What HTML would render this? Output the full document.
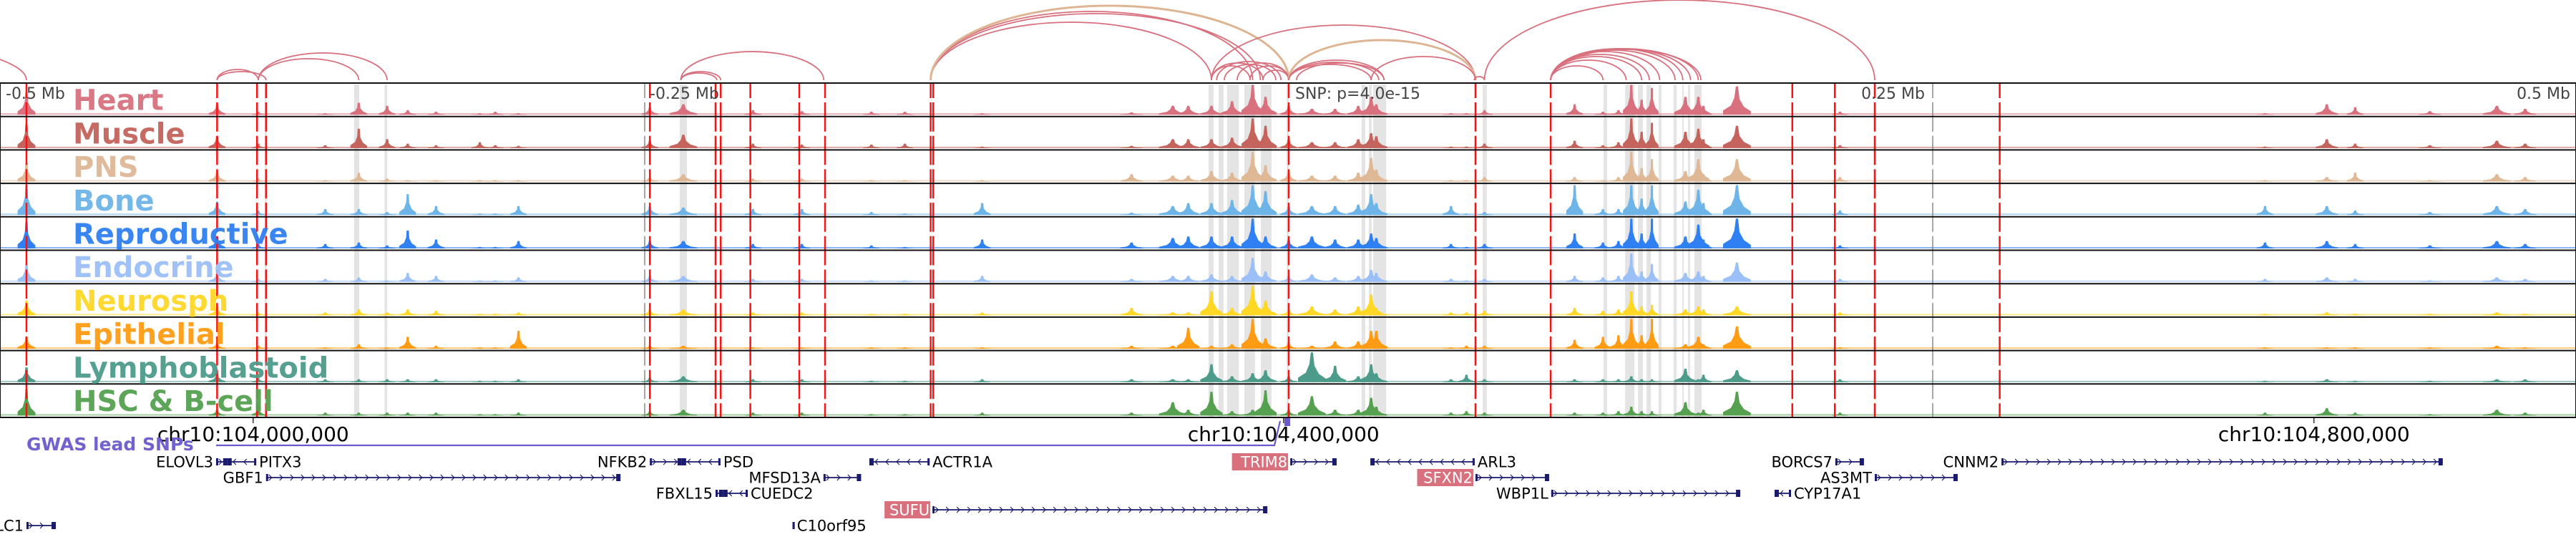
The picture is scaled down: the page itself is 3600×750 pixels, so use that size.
<!DOCTYPE html>
<html><head><meta charset="utf-8">
<style>
html,body{margin:0;padding:0;background:#fff;}
svg{display:block;font-family:"DejaVu Sans","Liberation Sans",sans-serif;}
</style></head>
<body>
<svg id="chart" xmlns="http://www.w3.org/2000/svg" width="3600" height="750" viewBox="0 0 3600 750">
<g id="bands"></g>
<g id="signals"></g>
<g id="vlines"></g>
<g id="frames"></g>
<g id="labels"></g>
<g id="arcs"></g>
<g id="axis"></g>
<g id="genes"></g>
</svg>
<script>
// ---- data (kb relative to lead SNP, chr10:104,402,000) ----
const trackNames = ["Heart","Muscle","PNS","Bone","Reproductive","Endocrine","Neurosph","Epithelial","Lymphoblastoid","HSC & B-cell"];
const trackColors = ["#d8707e","#c4645c","#dfb896","#6db4e8","#2f80f2","#9bbff7","#ffd826","#ff9c14","#4c9b8b","#55a150"];
const peakKb = [-490,-416,-400,-374,-361,-350,-342,-331,-314,-308,-299,-248,-235,-208,-189,-162,-149,-119,-61,-45,-39,-30,-22,-14,-9,0,9,18,27,32,34,63,69,76,111,122,128,133,137,141,154,159,161,174,214,379,403,414,443,469,480];
const peakW = [1.6,1.5,1.2,1.5,1.5,1.5,1.5,1.5,1.5,1.5,1.5,1.5,2.5,1.5,1.5,1.5,1.5,1.5,2,2.5,2,2,2,2,2,1.5,2.5,2,2,2,2,1.5,1.5,1.5,1.5,1.5,1.5,1.5,1.5,1.2,2,2,1.5,2.5,1.5,1.5,2,1.5,2,2.5,2];
const hHeart = [.75,.35,.1,.05,.4,.3,.15,.1,.05,.1,.05,.25,.35,.15,.12,.1,.1,.05,.08,.3,.3,.3,.45,1.0,.6,.3,.2,.2,.3,.6,.35,.05,.05,.15,.35,.1,.15,1.0,.5,.9,.6,.6,.3,.95,.1,.05,.35,.25,.12,.3,.2];
const hMuscle = [.8,.4,.15,.1,.65,.3,.15,.1,.2,.1,.08,.25,.45,.15,.12,.12,.15,.05,.08,.3,.3,.3,.35,1.0,.75,.3,.2,.2,.3,.5,.4,.05,.05,.15,.25,.1,.2,1.0,.55,.85,.55,.65,.3,.75,.1,.05,.3,.15,.1,.25,.15];
const hPNS = [.6,.35,.1,.05,.3,.1,.05,.05,.05,.05,.05,.15,.25,.1,.1,.05,.05,.05,.25,.2,.2,.35,.3,1.0,.55,.35,.2,.2,.3,.8,.4,.05,.05,.15,.15,.05,.15,1.0,.45,.75,.35,.75,.25,.75,.15,.05,.15,.3,.05,.25,.15];
const hBone = [1.0,.45,.15,.2,.2,.1,.7,.3,.05,.05,.3,.3,.25,.2,.2,.1,.05,.4,.08,.3,.4,.4,.5,1.0,.8,.3,.3,.3,.35,.7,.4,.3,.05,.1,1.0,.2,.2,1.0,.55,1.0,.45,.85,.4,1.0,.15,.3,.3,.15,.1,.3,.2];
const hRepro = [.9,.4,.15,.15,.2,.1,.6,.3,.05,.05,.25,.25,.25,.15,.15,.1,.05,.3,.2,.35,.4,.4,.4,1.0,.4,.3,.4,.3,.3,.5,.35,.15,.05,.15,.5,.2,.25,1.0,.5,1.0,.4,.8,.3,1.0,.1,.2,.25,.15,.1,.25,.15];
const hEndo = [.6,.3,.1,.1,.15,.05,.3,.2,.05,.05,.15,.2,.2,.1,.1,.05,.05,.2,.1,.2,.2,.25,.2,.8,.35,.2,.25,.15,.2,.4,.3,.1,.05,.1,.2,.15,.2,.95,.35,.6,.3,.35,.2,.65,.1,.1,.15,.1,.05,.15,.1];
const hNeuro = [.5,.3,.1,.1,.2,.1,.2,.15,.05,.05,.1,.2,.2,.1,.1,.05,.05,.1,.25,.1,.1,.8,.25,1.0,.5,.2,.3,.2,.3,.7,.25,.1,.1,.15,.25,.15,.2,.8,.3,.35,.2,.3,.2,.3,.1,.05,.1,.05,.05,.1,.05];
const hEpi = [.4,.2,.1,.05,.15,.05,.4,.1,.05,.05,.6,.1,.1,.05,.05,.05,.05,.05,.1,.1,.7,.1,.15,1.0,.35,.2,.1,.25,.25,.6,.6,.05,.1,.1,.3,.4,.45,1.0,.45,1.0,.15,.4,.15,.75,.05,.05,.05,.05,.05,.1,.05];
const hLympho = [.5,.3,.15,.1,.1,.1,.1,.1,.05,.05,.1,.15,.2,.1,.1,.05,.05,.1,.1,.1,.1,.6,.2,.3,.4,.2,1.0,.55,.2,.6,.3,.1,.25,.1,.1,.1,.1,.2,.1,.1,.45,.1,.25,.4,.1,.05,.1,.05,.05,.1,.1];
const hHSC = [.9,.2,.3,.1,.1,.1,.1,.1,.05,.05,.1,.15,.2,.1,.1,.05,.05,.1,.1,.45,.2,.8,.15,.2,.85,.2,.65,.2,.2,.6,.3,.1,.15,.1,.1,.1,.15,.3,.15,.15,.45,.1,.2,.8,.1,.1,.25,.1,.05,.2,.1];
const trackHeights = [hHeart,hMuscle,hPNS,hBone,hRepro,hEndo,hNeuro,hEpi,hLympho,hHSC];
const snpKb = [-490,-416,-400.5,-397,-248,-222.5,-220.5,-209,-190,-180,-139,-138,0,72.5,101.7,195.5,212,227.5,276];
const tickKb = [-250,250];
const bandStart = [-397.5,-362.8,-351,-236.4,-31.1,-27.2,-23.9,-17.2,-10.8,-0.8,28.3,31.1,32.8,75.3,122.2,130.6,135.6,138.9,143.6,149.4,152.8,155,157.5];
const bandEnd = [-396.7,-360.8,-350,-233.6,-29.2,-25.3,-19.4,-13.1,-6.7,0,29.7,32.2,37.8,76.9,123.6,134.2,137.5,140.6,144.7,150.6,153.3,155.8,160.3];
const arcStart = [-656,-416,-416,-400,-400,-236,-236,-236,-139,-139,-139,-139,-30,-30,-25,-20,-15,-28,-10,-30,0,0,0,3,0,32,72,76,101.7,101.7,101.7,101.7,101.7,101.7,101.7,101.7,101.7,101.7];
const arcEnd = [-490,-400,-397,-361,-350,-220.5,-222,-180.5,-30,-14,-11,0,-15,-10,-5,0,0,-3,0,72.5,72.5,37,35,37,32,72.5,76,227.5,122,131,137,140,144,150,153,156,159,160];
const arcScore = [60,15,12,30,38,12,10,40,81,96,93,104,20,24,22,24,20,26,14,77,56,28,25,24,22,33,5,112,20,28,33,36,40,42,44,44,44,43];
const arcTan = [0,0,0,0,0,0,0,0,0,0,0,1,0,0,0,0,0,0,0,0,1,0,0,0,0,0,0,0,0,0,0,0,0,0,0,0,0,0,0,0];
const coordLabels = ["chr10:104,000,000","chr10:104,400,000","chr10:104,800,000"];
const coordKb = [-402,-2,398];
const geneNames = ["NOLC1","ELOVL3","PITX3","NFKB2","PSD","ACTR1A","TRIM8","ARL3","BORCS7","CNNM2","GBF1","MFSD13A","SFXN2","AS3MT","FBXL15","CUEDC2","WBP1L","CYP17A1","SUFU","C10orf95"];
const geneStart = [-490,-416.4,-412,-248,-235.6,-162.8,0.6,31.7,212.2,276.7,-397,-180.6,72.5,227.5,-222.5,-219.5,101.9,188.6,-138.3,-192.6];
const geneEnd = [-478.6,-412,-400.8,-235.6,-220.6,-139.4,18.6,72.2,223.3,448,-259.4,-166,101.1,259.7,-219.5,-210,175.3,195,-8.3,-192];
const geneRow = [4,0,0,0,0,0,0,0,0,0,1,1,1,1,2,2,2,2,3,4];
const geneStrand = [1,1,-1,1,-1,-1,1,-1,1,1,1,1,1,1,1,-1,1,-1,1,1];
const geneLabelLeft = [1,1,0,1,0,0,1,0,1,1,1,1,1,1,1,0,1,0,1,0];
const geneHighlight = [0,0,0,0,0,0,1,0,0,0,0,0,1,0,0,0,0,0,1,0];

// ---- scales ----
const X0 = 1801, PX_PER_KB = 3.6;
function xs(kb){ return X0 + kb*PX_PER_KB; }
const TOP = 116, TH = 46.7, NT = 10, BOTTOM = TOP + TH*NT;
function trackTop(i){ return TOP + i*TH; }
function ys(i, v){ return trackTop(i) + TH - 2.5 - v*(TH-5); }
const NS = "http://www.w3.org/2000/svg";
function mk(tag, parent){ const e=document.createElementNS(NS,tag); parent.appendChild(e); return e; }

// bands
const gB = document.getElementById('bands');
for(let i=0;i<bandStart.length;i++){
  const r = mk('rect', gB);
  
  
  const x1 = xs(bandStart[i]), x2 = xs(bandEnd[i]);
  r.setAttribute('x', x1); r.setAttribute('y', TOP+2);
  r.setAttribute('width', Math.max(2, x2-x1)); r.setAttribute('height', BOTTOM-TOP-2);
  r.setAttribute('fill', '#e4e4e4');
}

// signals
const gS = document.getElementById('signals');
for(let t=0;t<NT;t++){
  const g = mk('g', gS);
  
  
  const base = ys(t,0);
  const bl = mk('rect', g);
  
  
  bl.setAttribute('x', 0); bl.setAttribute('y', base-2); bl.setAttribute('width', 3600); bl.setAttribute('height', 2);
  bl.setAttribute('fill', trackColors[t]); bl.setAttribute('opacity', '0.55');
  const hs = trackHeights[t];
  for(let p=0;p<peakKb.length;p++){
    const cx = xs(peakKb[p]), w = peakW[p]*PX_PER_KB*1.35, top = ys(t, hs[p]), hh = base-top;
    const pts = [[cx-w*1.6,base],[cx-w*1.6,base-hh*0.15],[cx-w*0.7,base-hh*0.32],[cx-w*0.3,base-hh*0.6],[cx-1.5,top],[cx+1.5,top],[cx+w*0.3,base-hh*0.55],[cx+w*0.8,base-hh*0.28],[cx+w*1.6,base-hh*0.12],[cx+w*1.6,base]];
    const pg = mk('polygon', g);
    
    
    pg.setAttribute('points', pts.map(q=>q[0].toFixed(1)+','+q[1].toFixed(1)).join(' '));
    pg.setAttribute('fill', trackColors[t]);
  }
}

// SNP lines & tick lines
const gV = document.getElementById('vlines');
for(let i=0;i<tickKb.length;i++){
  const l = mk('line', gV);
  
  
  l.setAttribute('x1', xs(tickKb[i])); l.setAttribute('x2', xs(tickKb[i]));
  l.setAttribute('y1', TOP); l.setAttribute('y2', BOTTOM);
  l.setAttribute('stroke', '#888'); l.setAttribute('stroke-width', '1.5');
  l.setAttribute('stroke-dasharray', '40.7 6'); l.setAttribute('stroke-dashoffset', '19.7');
}
for(let i=0;i<snpKb.length;i++){
  const l = mk('line', gV);
  
  
  l.setAttribute('x1', xs(snpKb[i])); l.setAttribute('x2', xs(snpKb[i]));
  l.setAttribute('y1', TOP); l.setAttribute('y2', BOTTOM);
  l.setAttribute('stroke', '#ff1010'); l.setAttribute('stroke-width', '2.5');
  l.setAttribute('stroke-dasharray', '40.7 6'); l.setAttribute('stroke-dashoffset', '19.7');
}

// frames
const gF = document.getElementById('frames');
for(let t=0;t<=NT;t++){
  const l = mk('line', gF);
  
  
  l.setAttribute('x1', 0); l.setAttribute('x2', 3600);
  l.setAttribute('y1', trackTop(t)); l.setAttribute('y2', trackTop(t));
  l.setAttribute('stroke', '#111'); l.setAttribute('stroke-width', '2');
}
['0','3600'].forEach(function(xv){
  const l = mk('line', gF);
  
  
  l.setAttribute('x1', xv); l.setAttribute('x2', xv); l.setAttribute('y1', TOP); l.setAttribute('y2', BOTTOM);
  l.setAttribute('stroke', '#111'); l.setAttribute('stroke-width', '2');
});

// labels
const gL = document.getElementById('labels');
for(let t=0;t<NT;t++){
  const tx = mk('text', gL);
  
  
  tx.setAttribute('x', 102); tx.setAttribute('y', trackTop(t)+TH-9);
  tx.setAttribute('font-size', '40'); tx.setAttribute('font-weight', 'bold');
  tx.setAttribute('fill', trackColors[t]); tx.setAttribute('opacity', '0.95');
  tx.textContent = trackNames[t];
}
const distLabels = [["-0.5 Mb",8,"start"],["-0.25 Mb",908,"start"],["SNP: p=4.0e-15",1810,"start"],["0.25 Mb",2690,"end"],["0.5 Mb",3592,"end"]];
distLabels.forEach(function(d){
  const tx = mk('text', gL);
  
  
  tx.setAttribute('x', d[1]); tx.setAttribute('y', 138);
  tx.setAttribute('font-size', '22'); tx.setAttribute('fill', '#444');
  tx.setAttribute('text-anchor', d[2]);
  tx.textContent = d[0];
});

// arcs
const gA = document.getElementById('arcs');
const ABASE = 112;
for(let i=0;i<arcStart.length;i++){
  const x1 = xs(arcStart[i]), x2 = xs(arcEnd[i]);
  const rx = (x2-x1)/2, ry = arcScore[i];
  const p = mk('path', gA);
  
  
  p.setAttribute('d', 'M'+x1.toFixed(1)+','+ABASE+' A'+rx.toFixed(1)+','+ry+' 0 0 1 '+x2.toFixed(1)+','+ABASE);
  p.setAttribute('fill', 'none');
  p.setAttribute('stroke', arcTan[i] ? '#deb592' : '#d8707e');
  p.setAttribute('stroke-width', arcTan[i] ? '3' : '1.8');
}

// axis
const gX = document.getElementById('axis');
for(let i=0;i<coordKb.length;i++){
  const xv = xs(coordKb[i]);
  const l = mk('line', gX);
  
  
  l.setAttribute('x1', xv); l.setAttribute('x2', xv); l.setAttribute('y1', BOTTOM); l.setAttribute('y2', BOTTOM+8);
  l.setAttribute('stroke', '#000'); l.setAttribute('stroke-width', '1.2');
  const tx = mk('text', gX);
  
  
  tx.setAttribute('x', xv); tx.setAttribute('y', 616); tx.setAttribute('text-anchor', 'middle');
  tx.setAttribute('font-size', '28'); tx.setAttribute('fill', '#000');
  tx.textContent = coordLabels[i];
}
const gw = mk('text', gX);


gw.setAttribute('x', 37); gw.setAttribute('y', 629); gw.setAttribute('font-size', '25'); gw.setAttribute('font-weight', 'bold');
gw.setAttribute('fill', '#6a5acd'); gw.setAttribute('opacity', '0.95');
gw.textContent = 'GWAS lead SNPs';
const gl = mk('polyline', gX);


gl.setAttribute('points', '302,622 '+(xs(0)-20)+',622 '+(xs(0)-12)+',588');
gl.setAttribute('fill', 'none'); gl.setAttribute('stroke', '#6a5acd'); gl.setAttribute('stroke-width', '2.2');
const gm = mk('rect', gX);


gm.setAttribute('x', xs(0)-6); gm.setAttribute('y', 584); gm.setAttribute('width', 8); gm.setAttribute('height', 11);
gm.setAttribute('fill', '#6a5acd');

// genes
const gG = document.getElementById('genes');
const rowY = [645,667,689,712,734];
const NAVY = '#1a1a6e';
for(let i=0;i<geneNames.length;i++){
  const g = mk('g', gG);
  
  
  const y = rowY[geneRow[i]], x1 = xs(geneStart[i]), x2 = xs(geneEnd[i]);
  const ln = mk('line', g);
  
  
  ln.setAttribute('x1', x1); ln.setAttribute('x2', x2); ln.setAttribute('y1', y); ln.setAttribute('y2', y);
  ln.setAttribute('stroke', NAVY); ln.setAttribute('stroke-width', '1.8');
  for(let cx = x1+8; cx < x2-6; cx += 15){
    const c = mk('polyline', g);
    
    
    const d = geneStrand[i] > 0 ? 4 : -4;
    c.setAttribute('points', (cx-d)+','+(y-4)+' '+cx+','+y+' '+(cx-d)+','+(y+4));
    c.setAttribute('fill', 'none'); c.setAttribute('stroke', NAVY); c.setAttribute('stroke-width', '1.2');
  }
  const ex = mk('rect', g);
  
  
  const ew = Math.min(6, x2-x1);
  ex.setAttribute('x', geneStrand[i] > 0 ? x2-ew : x1); ex.setAttribute('y', y-5);
  ex.setAttribute('width', ew); ex.setAttribute('height', 10); ex.setAttribute('fill', NAVY);
  const ex2 = mk('rect', g);
  
  
  ex2.setAttribute('x', geneStrand[i] > 0 ? x1 : x2-3); ex2.setAttribute('y', y-5);
  ex2.setAttribute('width', 3); ex2.setAttribute('height', 10); ex2.setAttribute('fill', NAVY);
  const left = geneLabelLeft[i] === 1;
  const tx = mk('text', g);
  
  
  tx.setAttribute('x', left ? x1-4 : x2+4); tx.setAttribute('y', y+7.5);
  tx.setAttribute('text-anchor', left ? 'end' : 'start');
  tx.setAttribute('font-size', '21');
  tx.setAttribute('fill', geneHighlight[i] ? '#fff' : '#000');
  tx.textContent = geneNames[i];
  if(geneHighlight[i]){
    const wEst = geneNames[i].length * 14.5 + 6;
    const bg = document.createElementNS(NS, 'rect');
    g.insertBefore(bg, tx);
    
    
    bg.setAttribute('x', x1-3-wEst); bg.setAttribute('y', y-12);
    bg.setAttribute('width', wEst); bg.setAttribute('height', 24);
    bg.setAttribute('fill', '#d8707e');
  }
}
</script>
</body></html>
